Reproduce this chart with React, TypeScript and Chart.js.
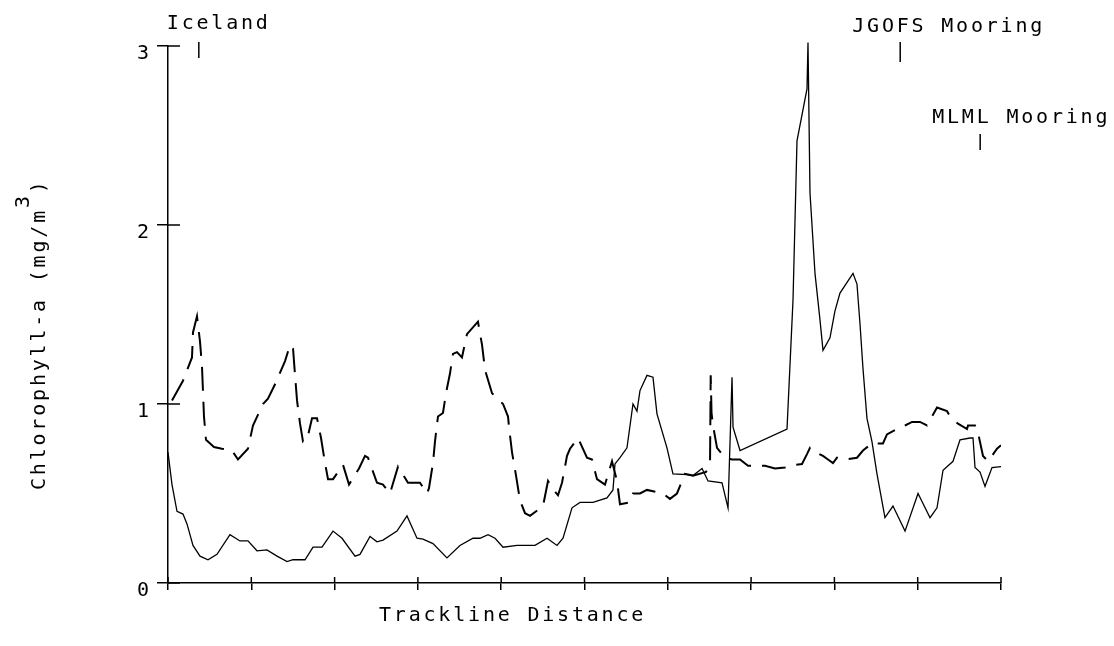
import React, { useEffect, useRef } from "react";
import { Chart, registerables } from "chart.js";

Chart.register(...registerables);

// Trackline distance (0-100 scale) and chlorophyll-a values, solid trace
const solidX = [
  0, 0.48, 1.08, 1.8, 2.28, 3.0, 3.84, 4.8, 5.88, 7.44, 8.64, 9.6, 10.68, 11.88, 13.09, 14.29,
  15.01, 16.45, 17.41, 18.49, 19.81, 20.89, 22.45, 23.05, 24.25, 25.09, 25.81, 27.49, 28.69,
  29.89, 30.61, 31.81, 33.49, 35.05, 36.61, 37.45, 38.42, 39.26, 40.22, 41.9, 44.06, 45.5,
  46.7, 47.42, 48.5, 49.46, 51.02, 52.7, 53.42, 53.66, 54.26, 55.1, 55.82, 56.3, 56.66, 57.5,
  58.22, 58.7, 59.9, 60.62, 62.3, 63.03, 64.11, 64.83, 66.51, 67.23, 67.71, 67.83, 68.67,
  74.31, 75.03, 75.51, 76.71, 76.83, 77.07, 77.67, 78.27, 78.63, 79.47, 80.07, 80.67, 82.23,
  82.71, 83.07, 83.43, 83.91, 84.51, 85.11, 86.07, 87.03, 88.48, 90.04, 91.48, 92.32, 93.04,
  94.24, 95.08, 96.28, 96.64, 96.88, 97.48, 98.08, 98.92, 100,
];
const solidY = [
  0.73, 0.55, 0.4, 0.385, 0.33, 0.21, 0.15, 0.13, 0.16, 0.27, 0.235, 0.235, 0.18, 0.185, 0.15,
  0.12, 0.13, 0.13, 0.2, 0.2, 0.29, 0.25, 0.15, 0.16, 0.26, 0.23, 0.24, 0.29, 0.375, 0.25,
  0.245, 0.22, 0.14, 0.21, 0.25, 0.25, 0.27, 0.25, 0.2, 0.21, 0.21, 0.25, 0.21, 0.25, 0.42,
  0.45, 0.45, 0.475, 0.52, 0.665, 0.7, 0.755, 1.0, 0.96, 1.075, 1.16, 1.15, 0.945, 0.755, 0.61,
  0.605, 0.6, 0.64, 0.57, 0.56, 0.42, 1.15, 0.87, 0.74, 0.86, 1.58, 2.47, 2.76, 3.02, 2.18,
  1.73, 1.47, 1.3, 1.37, 1.52, 1.62, 1.73, 1.67, 1.45, 1.2, 0.92, 0.79, 0.61, 0.365, 0.43,
  0.29, 0.5, 0.365, 0.42, 0.63, 0.68, 0.8, 0.81, 0.81, 0.645, 0.62, 0.54, 0.645, 0.65,
];

// Dashed trace
const dashedX = [
  0.48, 1.8, 2.88, 3.0, 3.48, 3.84, 4.08, 4.2, 4.32, 4.56, 5.52, 6.48, 7.68, 8.4, 9.6, 10.2,
  11.4, 12.0, 12.85, 14.05, 14.65, 15.01, 15.25, 15.49, 15.85, 16.21, 16.69, 17.29, 17.89,
  18.37, 18.85, 19.21, 19.81, 21.01, 21.73, 22.93, 23.65, 24.01, 25.09, 25.81, 26.65, 27.61,
  28.81, 30.25, 31.09, 31.33, 31.81, 32.05, 32.41, 33.01, 33.37, 33.85, 34.21, 34.69, 35.29,
  35.89, 37.21, 37.7, 38.06, 38.9, 40.22, 40.82, 40.94, 41.3, 41.78, 42.26, 42.86, 43.46,
  45.02, 45.62, 46.46, 46.82, 47.3, 47.9, 48.26, 49.22, 50.3, 50.9, 51.5, 52.46, 53.3, 53.9,
  54.26, 55.46, 55.82, 56.66, 57.5, 59.42, 60.26, 61.1, 62.06, 63.03, 64.59, 65.07, 65.15,
  65.25, 65.43, 65.91, 66.87, 67.71, 68.67, 69.63, 71.67, 72.87, 74.07, 75.27, 76.11, 76.71,
  77.07, 77.79, 78.63, 79.23, 79.83, 80.31, 81.27, 82.71, 83.43, 84.51, 85.83, 86.31, 87.52,
  88.48, 89.32, 90.28, 91.12, 91.72, 92.32, 93.52, 93.88, 94.84, 95.92, 96.04, 96.88, 97.24,
  97.84, 98.44, 99.52, 100,
];
const dashedY = [
  1.02, 1.13, 1.26, 1.4, 1.49, 1.35, 1.21, 1.07, 0.93, 0.8, 0.76, 0.75, 0.74, 0.69, 0.75, 0.88,
  1.0, 1.03, 1.11, 1.24, 1.33, 1.31, 1.16, 1.02, 0.89, 0.79, 0.8, 0.92, 0.92, 0.81, 0.67, 0.58,
  0.58, 0.66, 0.55, 0.64, 0.71, 0.7, 0.56, 0.55, 0.5, 0.65, 0.56, 0.56, 0.5, 0.53, 0.67, 0.79,
  0.93, 0.95, 1.06, 1.17, 1.28, 1.29, 1.26, 1.39, 1.46, 1.33, 1.19, 1.06, 1.0, 0.93, 0.87,
  0.73, 0.6, 0.46, 0.39, 0.375, 0.43, 0.57, 0.51, 0.49, 0.56, 0.71, 0.75, 0.81, 0.7, 0.69,
  0.58, 0.55, 0.68, 0.57, 0.44, 0.45, 0.5, 0.5, 0.52, 0.5, 0.47, 0.5, 0.61, 0.6, 0.62, 0.67,
  1.16, 0.95, 0.88, 0.755, 0.7, 0.69, 0.69, 0.655, 0.655, 0.64, 0.645, 0.66, 0.665, 0.72,
  0.755, 0.73, 0.71, 0.69, 0.67, 0.7, 0.69, 0.7, 0.74, 0.78, 0.78, 0.83, 0.86, 0.88, 0.9, 0.9,
  0.88, 0.93, 0.98, 0.96, 0.93, 0.89, 0.86, 0.88, 0.88, 0.84, 0.71, 0.68, 0.75, 0.77,
];

const yTicks = [0, 1, 2, 3];
const markerNames = ["Iceland", "JGOFS Mooring", "MLML Mooring"];
const markerX = [3.7, 87.9, 97.5];
const xTitle = "Trackline Distance";
const yTitleMain = "Chlorophyll-a (mg/m";
const yTitleSup = "3";
const yTitleEnd = ")";

const FONT = "20px 'DejaVu Sans Mono'";
const SPACING = "2.8px";

// layout of marker labels (pixel offsets relative to chart top / marker x)
const markerLayout = [
  { dx: -32, textY: -17, t0: -4, t1: 12 },
  { dx: -48, textY: -14, t0: -4, t1: 16 },
  { dx: -48, textY: 77, t0: 88, t1: 104 },
];

const decorations = {
  id: "decorations",
  afterDraw(chart: any) {
    const { ctx, chartArea } = chart;
    const xs = chart.scales.x;
    const ys = chart.scales.y;
    ctx.save();
    ctx.strokeStyle = "#000";
    ctx.fillStyle = "#000";
    ctx.lineWidth = 1.5;
    // inner halves of the crossing ticks
    ctx.beginPath();
    yTicks.forEach((v) => {
      const py = ys.getPixelForValue(v);
      ctx.moveTo(chartArea.left, py);
      ctx.lineTo(chartArea.left + 12, py);
    });
    xs.ticks.forEach((t: any) => {
      const px = xs.getPixelForValue(t.value);
      ctx.moveTo(px, chartArea.bottom - 6);
      ctx.lineTo(px, chartArea.bottom);
    });
    ctx.stroke();

    ctx.font = FONT;
    (ctx as any).letterSpacing = SPACING;
    ctx.textBaseline = "alphabetic";
    ctx.textAlign = "left";
    // location markers
    markerNames.forEach((name, i) => {
      const L = markerLayout[i];
      const px = xs.getPixelForValue(markerX[i]);
      ctx.fillText(name, px + L.dx, chartArea.top + L.textY);
      ctx.beginPath();
      ctx.moveTo(px, chartArea.top + L.t0);
      ctx.lineTo(px, chartArea.top + L.t1);
      ctx.stroke();
    });
    // x title
    ctx.fillText(xTitle, 379, chartArea.bottom + 38);
    // y title (rotated, with superscript)
    ctx.save();
    ctx.translate(45, 490);
    ctx.rotate(-Math.PI / 2);
    ctx.fillText(yTitleMain, 0, 0);
    const w = ctx.measureText(yTitleMain).width;
    ctx.fillText(yTitleSup, w, -16);
    const w2 = ctx.measureText(yTitleSup).width;
    ctx.fillText(yTitleEnd, w + w2, 0);
    ctx.restore();
    ctx.restore();
  },
};

export default function App() {
  const ref = useRef<HTMLCanvasElement | null>(null);
  useEffect(() => {
    if (!ref.current) return;
    const solid = solidX.map((x, i) => ({ x, y: solidY[i] }));
    const dashed = dashedX.map((x, i) => ({ x, y: dashedY[i] }));
    const chart = new Chart(ref.current, {
      type: "line",
      data: {
        datasets: [
          {
            label: "solid",
            data: solid,
            borderColor: "#000",
            borderWidth: 1.3,
            pointRadius: 0,
            tension: 0,
            clip: false as any,
          },
          {
            label: "dashed",
            data: dashed,
            borderColor: "#000",
            borderWidth: 2,
            borderDash: [24, 11],
            pointRadius: 0,
            tension: 0,
          },
        ],
      },
      options: {
        responsive: false,
        animation: false,
        events: [],
        layout: { padding: { left: 100, right: 113, top: 46, bottom: 43 } },
        plugins: { legend: { display: false }, tooltip: { enabled: false } },
        scales: {
          x: {
            type: "linear",
            min: 0,
            max: 100,
            afterFit: (s: any) => {
              s.height = 20;
            },
            ticks: { display: false, stepSize: 10 },
            grid: {
              display: true,
              drawOnChartArea: false,
              drawTicks: true,
              tickLength: 7,
              color: "#000",
              lineWidth: 1.5,
            },
            border: { display: true, color: "#000", width: 1.5 },
          },
          y: {
            type: "linear",
            min: 0,
            max: 3,
            afterFit: (s: any) => {
              s.width = 68;
            },
            afterBuildTicks: (s: any) => {
              s.ticks = yTicks.map((v) => ({ value: v }));
            },
            ticks: {
              color: "#000",
              font: { family: "DejaVu Sans Mono", size: 20 },
              padding: 8,
              labelOffset: 8,
            },
            grid: {
              display: true,
              drawOnChartArea: false,
              drawTicks: true,
              tickLength: 11,
              color: "#000",
              lineWidth: 1.5,
            },
            border: { display: true, color: "#000", width: 1.5 },
          },
        },
      },
      plugins: [decorations],
    });
    return () => chart.destroy();
  }, []);
  return (
    <div style={{ position: "fixed", left: 0, top: 0, width: 1114, height: 646, background: "#fff" }}>
      <canvas ref={ref} width={1114} height={646} style={{ display: "block" }} />
    </div>
  );
}
